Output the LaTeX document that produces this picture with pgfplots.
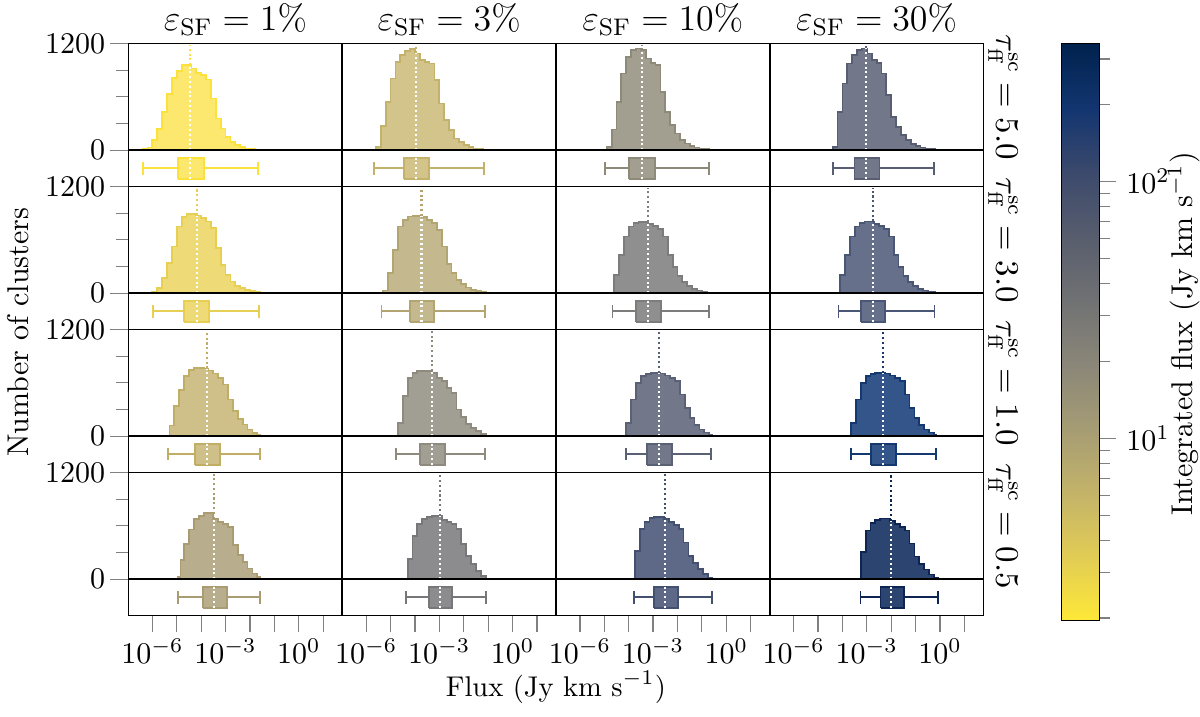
\documentclass[border=0pt]{standalone}
\usepackage{pgfplots}
\pgfplotsset{compat=1.18}

\definecolor{eAA}{HTML}{FBE13A}\definecolor{fAA}{HTML}{FCE86E}
\definecolor{eAB}{HTML}{C4B26A}\definecolor{fAB}{HTML}{D2C48A}
\definecolor{eAC}{HTML}{8E8A7A}\definecolor{fAC}{HTML}{A29E90}
\definecolor{eAD}{HTML}{575E72}\definecolor{fAD}{HTML}{727789}
\definecolor{eBA}{HTML}{E6CF52}\definecolor{fBA}{HTML}{EEDB78}
\definecolor{eBB}{HTML}{B3A571}\definecolor{fBB}{HTML}{C4B98E}
\definecolor{eBC}{HTML}{7C7C7B}\definecolor{fBC}{HTML}{8F8F8F}
\definecolor{eBD}{HTML}{4A5675}\definecolor{fBD}{HTML}{66708A}
\definecolor{eCA}{HTML}{C0AE66}\definecolor{fCA}{HTML}{CEC088}
\definecolor{eCB}{HTML}{8E8B7E}\definecolor{fCB}{HTML}{A19F94}
\definecolor{eCC}{HTML}{5B6175}\definecolor{fCC}{HTML}{73778A}
\definecolor{eCD}{HTML}{15386F}\definecolor{fCD}{HTML}{33558A}
\definecolor{eDA}{HTML}{A99C73}\definecolor{fDA}{HTML}{B8AD8C}
\definecolor{eDB}{HTML}{77777A}\definecolor{fDB}{HTML}{8C8C8E}
\definecolor{eDC}{HTML}{44506F}\definecolor{fDC}{HTML}{5E6887}
\definecolor{eDD}{HTML}{0E2452}\definecolor{fDD}{HTML}{2C4470}

\pgfplotsset{
  colormap={cividisr}{rgb255=(254,232,56) rgb255=(225,204,85) rgb255=(195,179,105)
    rgb255=(165,156,116) rgb255=(138,134,120) rgb255=(112,113,115) rgb255=(87,93,109)
    rgb255=(59,73,108) rgb255=(18,53,112) rgb255=(0,34,78)},
  cell/.style={scale only axis, width=71.25pt, height=47.67pt, anchor=north west,
    xmin=-6.98, xmax=1.78, ymin=-408, ymax=1200, axis on top,
    axis line style={line width=0.6pt},
    xtick=\empty, ytick=\empty,
    tick style={gray, line width=0.4pt}},
  leftcol/.style={ytick={0,1200}, yticklabels={$0$,$1200$}, minor ytick={300,600,900},
    ytick pos=left, ytick align=outside,
    ytick style={/pgfplots/major tick length=6pt, /pgfplots/minor tick length=4pt},
    yticklabel style={font=\fontsize{10}{12}\selectfont}},
  bottomrow/.style={xtick={-6,-3,0},
    xticklabels={$10^{-6}$,$10^{-3}$,$10^{0}$},
    minor xtick={-5,-4,-2,-1,1},
    xtick pos=left, xtick align=outside,
    xtick style={/pgfplots/major tick length=5.6pt, /pgfplots/minor tick length=5.6pt},
    xticklabel style={font=\fontsize{10}{12}\selectfont}},
  mediandots/.style={line width=0.7pt, dash pattern=on 0.7pt off 0.9pt},
}

\def\setstats#1,#2,#3,#4,#5,#6\relax{\def\M{#1}\def\HM{#2}\def\QA{#3}\def\QB{#4}\def\WA{#5}\def\WB{#6}}

% #1 x, #2 y, #3 edge colour, #4 fill colour, #5 histogram, #6 median,hmed,Q1,Q3,wlo,whi, #7 options
\newcommand{\cell}[7]{%
  \setstats#6\relax
  \begin{axis}[cell, at={(#1,#2)}, #7]
    \addplot[const plot, draw=#3, fill=#4, line width=0.6pt] coordinates {#5} \closedcycle;
    \addplot[#3, mediandots] coordinates {(\M,\HM) (\M,1185)};
    \addplot[white, mediandots] coordinates {(\M,0) (\M,\HM)};
    \addplot[draw=#3, fill=#4, line width=0.6pt] coordinates {(\QA,-322) (\QB,-322) (\QB,-86) (\QA,-86) (\QA,-322)};
    \addplot[#3, line width=0.6pt] coordinates {(\WA,-204) (\QA,-204)};
    \addplot[#3, line width=0.6pt] coordinates {(\QB,-204) (\WB,-204)};
    \addplot[#3, line width=0.6pt] coordinates {(\WA,-273) (\WA,-135)};
    \addplot[#3, line width=0.6pt] coordinates {(\WB,-273) (\WB,-135)};
    \addplot[white, mediandots] coordinates {(\M,-322) (\M,-86)};
    \draw[black, line width=0.6pt] (axis cs:-7,0) -- (axis cs:2,0);
  \end{axis}}

\begin{document}
\begin{tikzpicture}
\useasboundingbox (0,0) rectangle (400pt,-238.67pt);

% ---------- row 1 : tau = 5.0
\cell{42.83pt}{-14.5pt}{eAA}{fAA}{(-6.4,10) (-6.2,30) (-6.0,112) (-5.8,236) (-5.6,431) (-5.4,630) (-5.2,814) (-5.0,889) (-4.8,956) (-4.6,956) (-4.4,919) (-4.2,870) (-4.0,850) (-3.8,795) (-3.6,581) (-3.4,356) (-3.2,244) (-3.0,150) (-2.8,94) (-2.6,56) (-2.4,38) (-2.2,19) (-2.0,12) (-1.8,6) (-1.6,6)}{-4.45,956,-4.96,-3.87,-6.40,-1.67}{leftcol}
\cell{114.08pt}{-14.5pt}{eAB}{fAB}{(-5.6,38) (-5.4,270) (-5.2,544) (-5.0,806) (-4.8,994) (-4.6,1069) (-4.4,1118) (-4.2,1136) (-4.0,1088) (-3.8,1013) (-3.6,994) (-3.4,975) (-3.2,788) (-3.0,525) (-2.8,338) (-2.6,225) (-2.4,131) (-2.2,94) (-2.0,56) (-1.8,38) (-1.6,19) (-1.4,12) (-1.2,12)}{-3.96,1088,-4.44,-3.42,-5.67,-1.17}{}
\cell{185.33pt}{-14.5pt}{eAC}{fAC}{(-4.9,38) (-4.7,232) (-4.5,544) (-4.3,862) (-4.1,1050) (-3.9,1125) (-3.7,1144) (-3.5,1125) (-3.3,1031) (-3.1,982) (-2.9,956) (-2.7,656) (-2.5,431) (-2.3,281) (-2.1,188) (-1.9,112) (-1.7,75) (-1.5,45) (-1.3,30) (-1.1,15) (-0.9,10) (-0.7,10)}{-3.46,1125,-3.98,-2.92,-4.96,-0.71}{}
\cell{256.58pt}{-14.5pt}{eAD}{fAD}{(-4.4,38) (-4.2,431) (-4.0,750) (-3.8,975) (-3.6,1069) (-3.4,1125) (-3.2,1144) (-3.0,1088) (-2.8,1013) (-2.6,982) (-2.4,862) (-2.2,619) (-2.0,375) (-1.8,262) (-1.6,169) (-1.4,112) (-1.2,68) (-1.0,45) (-0.8,30) (-0.6,19) (-0.4,11) (-0.2,11)}{-3.03,1144,-3.51,-2.48,-4.39,-0.26}{%
  colormap name=cividisr, colorbar, point meta min=0.292, point meta max=2.537,
  colorbar style={at={(parent axis.north east)}, anchor=north west, xshift=17.4pt,
    scale only axis, width=12.7pt, height=192.3pt,
    ytick={1,2}, yticklabels={$10^{1}$,$10^{2}$},
    minor ytick={0.301,0.477,0.602,0.699,0.778,0.845,0.903,0.954,1.301,1.477,1.602,1.699,1.778,1.845,1.903,1.954,2.301,2.477},
    yticklabel pos=right, ytick pos=right, tick align=outside,
    major tick length=5.5pt, minor tick length=3.5pt,
    tick style={gray, line width=0.4pt},
    yticklabel style={font=\fontsize{10}{12}\selectfont},
    axis line style={line width=0.5pt}}}

% ---------- row 2 : tau = 3.0
\cell{42.83pt}{-62.17pt}{eBA}{fBA}{(-6.0,19) (-5.8,56) (-5.6,169) (-5.4,338) (-5.2,525) (-5.0,750) (-4.8,855) (-4.6,889) (-4.4,889) (-4.2,874) (-4.0,844) (-3.8,806) (-3.6,731) (-3.4,506) (-3.2,319) (-3.0,206) (-2.8,131) (-2.6,82) (-2.4,56) (-2.2,38) (-2.0,22) (-1.8,11) (-1.6,11)}{-4.19,874,-4.69,-3.67,-5.99,-1.63}{leftcol}
\cell{114.08pt}{-62.17pt}{eBB}{fBB}{(-5.3,30) (-5.1,225) (-4.9,488) (-4.7,750) (-4.5,825) (-4.3,862) (-4.1,870) (-3.9,870) (-3.7,855) (-3.5,825) (-3.3,788) (-3.1,712) (-2.9,525) (-2.7,330) (-2.5,225) (-2.3,150) (-2.1,101) (-1.9,64) (-1.7,38) (-1.5,22) (-1.3,11) (-1.1,11)}{-3.73,870,-4.19,-3.21,-5.37,-1.14}{}
\cell{185.33pt}{-62.17pt}{eBC}{fBC}{(-4.6,206) (-4.4,431) (-4.2,638) (-4.0,750) (-3.8,788) (-3.6,800) (-3.4,800) (-3.2,776) (-3.0,758) (-2.8,724) (-2.6,638) (-2.4,431) (-2.2,292) (-2.0,195) (-1.8,124) (-1.6,79) (-1.4,49) (-1.2,30) (-1.0,19) (-0.8,8) (-0.7,8)}{-3.22,800,-3.71,-2.69,-4.66,-0.71}{}
\cell{256.58pt}{-62.17pt}{eBD}{fBD}{(-4.1,206) (-3.9,431) (-3.7,638) (-3.5,750) (-3.3,788) (-3.1,806) (-2.9,806) (-2.7,776) (-2.5,758) (-2.3,724) (-2.1,638) (-1.9,431) (-1.7,292) (-1.5,195) (-1.3,124) (-1.1,79) (-0.9,49) (-0.7,30) (-0.5,19) (-0.3,10) (-0.2,10)}{-2.75,806,-3.24,-2.24,-4.16,-0.23}{}

% ---------- row 3 : tau = 1.0
\cell{42.83pt}{-109.83pt}{eCA}{fCA}{(-5.3,120) (-5.1,340) (-4.9,520) (-4.7,675) (-4.5,742) (-4.3,769) (-4.1,769) (-3.9,761) (-3.7,739) (-3.5,705) (-3.3,656) (-3.1,581) (-2.9,412) (-2.7,281) (-2.5,195) (-2.3,131) (-2.1,75) (-1.9,38) (-1.7,19) (-1.6,19)}{-3.76,761,-4.24,-3.22,-5.35,-1.59}{leftcol}
\cell{114.08pt}{-109.83pt}{eCB}{fCB}{(-4.7,150) (-4.5,450) (-4.3,656) (-4.1,712) (-3.9,731) (-3.7,731) (-3.5,731) (-3.3,712) (-3.1,656) (-2.9,619) (-2.7,544) (-2.5,488) (-2.3,300) (-2.1,214) (-1.9,139) (-1.7,94) (-1.5,56) (-1.3,26) (-1.1,26)}{-3.30,731,-3.79,-2.77,-4.77,-1.14}{}
\cell{185.33pt}{-109.83pt}{eCC}{fCC}{(-4.1,150) (-3.9,412) (-3.7,600) (-3.5,675) (-3.3,701) (-3.1,712) (-2.9,712) (-2.7,705) (-2.5,682) (-2.3,656) (-2.1,619) (-1.9,469) (-1.7,319) (-1.5,206) (-1.3,124) (-1.1,75) (-0.9,41) (-0.7,19) (-0.6,19)}{-2.76,712,-3.26,-2.24,-4.12,-0.63}{}
\cell{256.58pt}{-109.83pt}{eCD}{fCD}{(-3.65,150) (-3.45,412) (-3.25,600) (-3.05,675) (-2.85,701) (-2.65,712) (-2.45,712) (-2.25,705) (-2.05,682) (-1.85,656) (-1.65,619) (-1.45,469) (-1.25,319) (-1.05,206) (-0.85,124) (-0.65,75) (-0.45,41) (-0.25,19) (-0.15,19)}{-2.32,712,-2.83,-1.80,-3.64,-0.17}{}

% ---------- row 4 : tau = 0.5
\cell{42.83pt}{-157.5pt}{eDA}{fDA}{(-4.95,25) (-4.85,215) (-4.7,400) (-4.5,560) (-4.3,680) (-4.1,715) (-3.9,748) (-3.7,748) (-3.5,680) (-3.3,640) (-3.1,620) (-2.9,583) (-2.7,383) (-2.5,271) (-2.3,196) (-2.1,120) (-1.9,64) (-1.7,25) (-1.6,25)}{-3.47,680,-3.92,-2.95,-4.95,-1.58}{leftcol,bottomrow}
\cell{114.08pt}{-157.5pt}{eDB}{fDB}{(-4.3,226) (-4.1,489) (-3.9,620) (-3.7,677) (-3.5,703) (-3.3,714) (-3.1,714) (-2.9,665) (-2.7,647) (-2.5,620) (-2.3,564) (-2.1,395) (-1.9,263) (-1.7,169) (-1.5,94) (-1.3,38) (-1.1,38)}{-2.99,714,-3.42,-2.47,-4.36,-1.08}{bottomrow}
\cell{185.33pt}{-157.5pt}{eDC}{fDC}{(-3.75,320) (-3.55,564) (-3.35,647) (-3.15,688) (-2.95,703) (-2.75,703) (-2.55,677) (-2.35,639) (-2.15,609) (-1.95,564) (-1.75,414) (-1.55,263) (-1.35,180) (-1.15,113) (-0.95,56) (-0.75,19) (-0.6,19)}{-2.51,677,-2.95,-1.99,-3.78,-0.59}{bottomrow}
\cell{256.58pt}{-157.5pt}{eDD}{fDD}{(-3.25,310) (-3.05,547) (-2.85,628) (-2.65,667) (-2.45,683) (-2.25,683) (-2.05,657) (-1.85,620) (-1.65,591) (-1.45,547) (-1.25,402) (-1.05,255) (-0.85,175) (-0.65,110) (-0.45,54) (-0.25,18) (-0.1,18)}{-2.00,657,-2.44,-1.48,-3.26,-0.08}{bottomrow}

% ---------- texts
\foreach \cx/\lab in {78.46/1, 149.71/3, 220.96/10, 292.21/30}
  \node[anchor=base, font=\fontsize{12}{14}\selectfont, inner sep=0pt] at (\cx pt,-10pt) {$\varepsilon_{\rm SF} = \lab\%$};
\foreach \cy/\lab in {32.27/5.0, 79.94/3.0, 127.6/1.0, 175.27/0.5}
  \node[rotate=-90, font=\fontsize{10.5}{12}\selectfont, inner sep=0pt] at (334.3pt,-\cy pt) {$\tau_{\rm ff}^{\rm sc} = \lab$};
\node[rotate=90, font=\fontsize{10}{12}\selectfont, inner sep=0pt] at (6pt,-110.7pt) {Number of clusters};
\node[anchor=base, font=\fontsize{9.5}{11}\selectfont, inner sep=0pt] at (185.3pt,-232pt) {Flux (Jy km s$^{-1}$)};
\node[rotate=90, font=\fontsize{10}{12}\selectfont, inner sep=0pt] at (394.6pt,-111.3pt) {Integrated flux (Jy km s$^{-1}$)};
\end{tikzpicture}
\end{document}
